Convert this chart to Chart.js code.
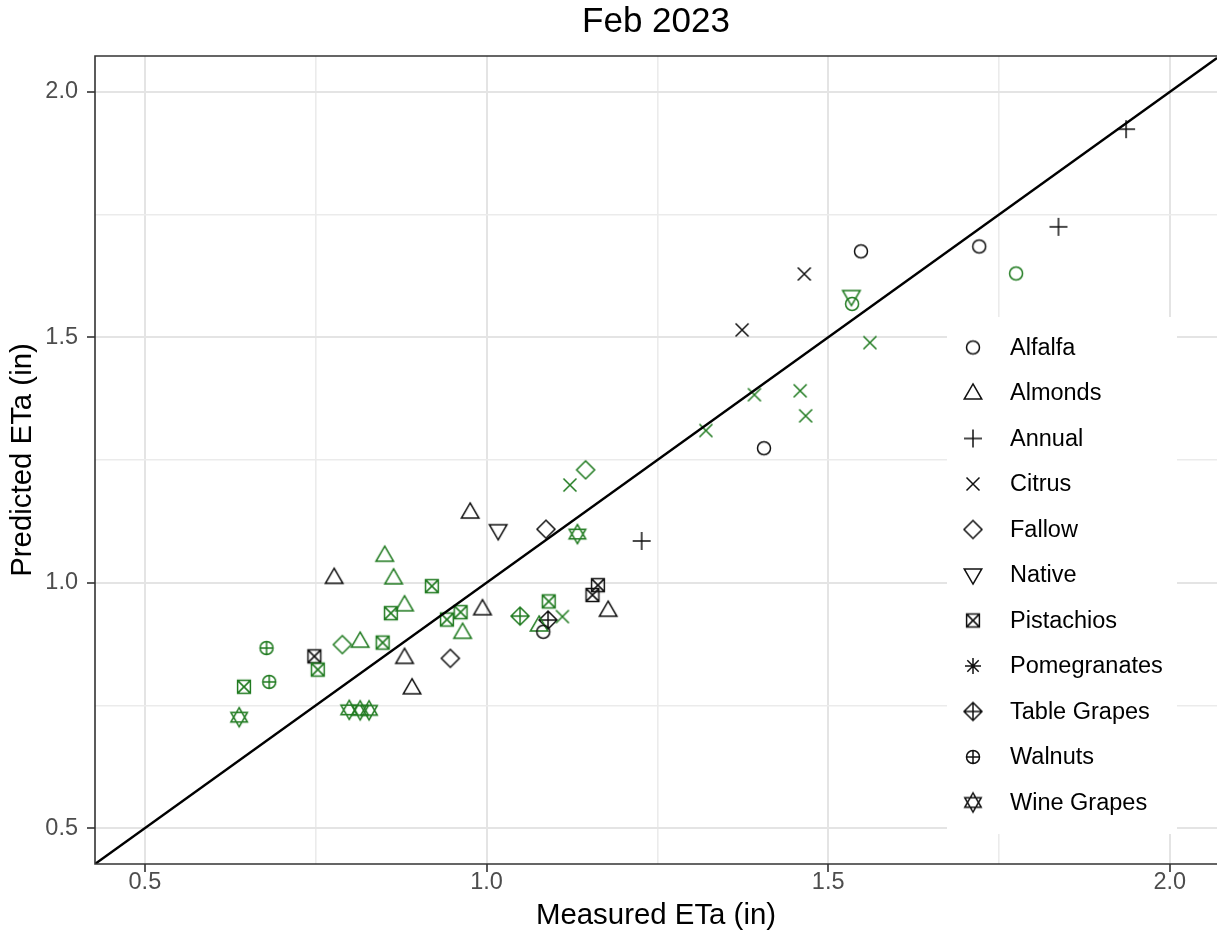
<!DOCTYPE html>
<html>
<head>
<meta charset="utf-8">
<script src="https://cdn.jsdelivr.net/npm/chart.js@4.4.0/dist/chart.umd.min.js"></script>
<style>
  html, body { margin: 0; padding: 0; background: #fff; overflow: hidden; }
  #chart { display: block; }
</style>
</head>
<body>
<canvas id="chart" width="1217" height="939"></canvas>
<script>
// data
const crops = ["Alfalfa", "Almonds", "Annual", "Citrus", "Fallow", "Native",
    "Pistachios", "Pomegranates", "Table Grapes", "Walnuts", "Wine Grapes"];

const blackCrop = ["Alfalfa", "Alfalfa", "Alfalfa", "Alfalfa",
    "Almonds", "Almonds", "Almonds", "Almonds", "Almonds", "Almonds",
    "Annual", "Annual", "Annual", "Citrus", "Citrus", "Fallow", "Fallow",
    "Native", "Pistachios", "Pistachios", "Pistachios", "Table Grapes"];
const blackMeasured = [1.548, 1.721, 1.406, 1.083,
    0.777, 0.976, 0.994, 1.178, 0.880, 0.891,
    1.936, 1.837, 1.227, 1.465, 1.374, 1.087, 0.947,
    1.017, 0.748, 1.163, 1.155, 1.090];
const blackPredicted = [1.675, 1.685, 1.274, 0.900,
    1.011, 1.144, 0.947, 0.944, 0.848, 0.786,
    1.924, 1.725, 1.085, 1.629, 1.515, 1.109, 0.846,
    1.106, 0.850, 0.995, 0.975, 0.924];

const greenCrop = ["Alfalfa", "Alfalfa",
    "Almonds", "Almonds", "Almonds", "Almonds", "Almonds", "Almonds",
    "Citrus", "Citrus", "Citrus", "Citrus", "Citrus", "Citrus", "Citrus",
    "Fallow", "Fallow", "Native",
    "Pistachios", "Pistachios", "Pistachios", "Pistachios",
    "Pistachios", "Pistachios", "Pistachios", "Pistachios",
    "Table Grapes", "Walnuts", "Walnuts",
    "Wine Grapes", "Wine Grapes", "Wine Grapes", "Wine Grapes", "Wine Grapes"];
const greenMeasured = [1.775, 1.535,
    0.851, 0.864, 0.880, 0.815, 0.965, 1.077,
    1.561, 1.392, 1.459, 1.467, 1.321, 1.122, 1.111,
    1.145, 0.789, 1.534,
    0.860, 0.753, 0.848, 0.645, 0.920, 1.091, 0.962, 0.942,
    1.049, 0.678, 0.682,
    0.638, 0.799, 0.815, 0.828, 1.133];
const greenPredicted = [1.630, 1.568,
    1.056, 1.010, 0.955, 0.881, 0.899, 0.914,
    1.489, 1.383, 1.391, 1.340, 1.310, 1.199, 0.931,
    1.230, 0.874, 1.583,
    0.938, 0.823, 0.878, 0.788, 0.993, 0.962, 0.940, 0.925,
    0.932, 0.867, 0.798,
    0.726, 0.741, 0.740, 0.740, 1.099];

const majorTicks = [0.5, 1.0, 1.5, 2.0];
const minorTicks = [0.75, 1.25, 1.75];
const axisMin = 0.427;
const xMax = 2.069;
const yMax = 2.073;
const chartTitle = "Feb 2023";

// look
const BLACK = "#111111";
const GREEN = "#1f7a1f";
const FONT = "'Liberation Sans', Arial, sans-serif";
const shapeOf = {
    "Alfalfa": "circle", "Almonds": "triangle", "Annual": "plus", "Citrus": "cross",
    "Fallow": "diamond", "Native": "triangleDown", "Pistachios": "squareCross",
    "Pomegranates": "asterisk", "Table Grapes": "diamondPlus",
    "Walnuts": "circlePlus", "Wine Grapes": "star"
};

function makeIcon(shape, color) {
    const c = document.createElement("canvas");
    c.width = 24; c.height = 24;
    const g = c.getContext("2d");
    g.strokeStyle = color;
    g.lineWidth = 1.5;
    g.lineJoin = "miter";
    g.translate(12, 12);
    const tri = (s, dir) => {
        const h = s * Math.sqrt(3) / 2;
        g.moveTo(0, -dir * h * 2 / 3);
        g.lineTo(s / 2, dir * h / 3);
        g.lineTo(-s / 2, dir * h / 3);
        g.closePath();
    };
    const line = (x1, y1, x2, y2) => { g.moveTo(x1, y1); g.lineTo(x2, y2); };
    g.beginPath();
    switch (shape) {
        case "circle": g.arc(0, 0, 6.5, 0, Math.PI * 2); break;
        case "triangle": g.translate(0, 1); tri(17.5, 1); break;
        case "triangleDown": g.translate(0, -1); tri(17.5, -1); break;
        case "plus": line(-9, 0, 9, 0); line(0, -9, 0, 9); break;
        case "cross": line(-6.5, -6.5, 6.5, 6.5); line(-6.5, 6.5, 6.5, -6.5); break;
        case "diamond":
            g.moveTo(0, -9); g.lineTo(9, 0); g.lineTo(0, 9); g.lineTo(-9, 0); g.closePath(); break;
        case "squareCross":
            g.rect(-6.4, -6.4, 12.8, 12.8);
            line(-6.4, -6.4, 6.4, 6.4); line(-6.4, 6.4, 6.4, -6.4); break;
        case "asterisk":
            line(-8, 0, 8, 0); line(0, -8, 0, 8);
            line(-5.7, -5.7, 5.7, 5.7); line(-5.7, 5.7, 5.7, -5.7); break;
        case "diamondPlus":
            g.moveTo(0, -9); g.lineTo(9, 0); g.lineTo(0, 9); g.lineTo(-9, 0); g.closePath();
            line(-9, 0, 9, 0); line(0, -9, 0, 9); break;
        case "circlePlus":
            g.arc(0, 0, 6.5, 0, Math.PI * 2);
            line(-6.5, 0, 6.5, 0); line(0, -6.5, 0, 6.5); break;
        case "star":
            tri(16.5, 1); tri(16.5, -1); break;
    }
    g.stroke();
    return c;
}

const icons = {};
crops.forEach(name => {
    icons[name] = { k: makeIcon(shapeOf[name], BLACK), g: makeIcon(shapeOf[name], GREEN) };
});

// one dataset per crop, points keep their colour group
const cropSets = crops.map(name => {
    const pts = [];
    blackCrop.forEach((c, i) => { if (c === name) pts.push({ x: blackMeasured[i], y: blackPredicted[i], g: "k" }); });
    greenCrop.forEach((c, i) => { if (c === name) pts.push({ x: greenMeasured[i], y: greenPredicted[i], g: "g" }); });
    return {
        type: "scatter",
        label: name,
        data: pts,
        pointRadius: 7,
        pointHoverRadius: 7,
        clip: false,
        pointStyle: ctx => (ctx.raw && ctx.raw.g === "g") ? icons[name].g : icons[name].k
    };
});

const oneToOne = {
    type: "line",
    label: "1:1",
    data: [{ x: axisMin, y: axisMin }, { x: xMax, y: xMax }],
    borderColor: "#000",
    borderWidth: 2.4,
    pointRadius: 0,
    fill: false
};

const allTicks = majorTicks.concat(minorTicks).sort((a, b) => a - b);
const isMajor = v => majorTicks.some(m => Math.abs(m - v) < 1e-6);

const gridOpts = {
    color: ctx => (ctx.tick && isMajor(ctx.tick.value)) ? "#e4e4e4" : "#ebebeb",
    lineWidth: ctx => (ctx.tick && isMajor(ctx.tick.value)) ? 2 : 1.6,
    tickColor: ctx => (ctx.tick && isMajor(ctx.tick.value)) ? "#333" : "rgba(0,0,0,0)",
    tickWidth: 1.6,
    tickLength: 8,
    drawTicks: true
};

// title, panel border and legend box inside the panel
const panelPlugin = {
    id: "panel",
    afterDatasetsDraw(chart) {
        const ctx = chart.ctx;
        const a = chart.chartArea;
        ctx.save();
        // title over the panel
        ctx.font = "35px " + FONT;
        ctx.fillStyle = "#000";
        ctx.textAlign = "center";
        ctx.textBaseline = "alphabetic";
        ctx.fillText(chartTitle, (a.left + a.right) / 2, 32);
        // legend
        const lx = 947, ly = 317, lw = 230, lh = 517;
        ctx.fillStyle = "#fff";
        ctx.fillRect(lx, ly, lw, lh);
        ctx.font = "23.5px " + FONT;
        ctx.fillStyle = "#000";
        ctx.textAlign = "left";
        ctx.textBaseline = "middle";
        crops.forEach((name, i) => {
            const cy = 347.5 + i * 45.5;
            const ic = icons[name].k;
            ctx.drawImage(ic, 973 - ic.width / 2, cy - ic.height / 2);
            ctx.fillText(name, 1010, cy + 1);
        });
        // border: panel runs off the right edge, so only three sides show
        ctx.strokeStyle = "#333";
        ctx.lineWidth = 1.6;
        ctx.beginPath();
        ctx.moveTo(chart.width + 2, a.top);
        ctx.lineTo(a.left, a.top);
        ctx.lineTo(a.left, a.bottom);
        ctx.lineTo(chart.width + 2, a.bottom);
        ctx.stroke();
        ctx.restore();
    }
};

new Chart(document.getElementById("chart"), {
    data: { datasets: [oneToOne].concat(cropSets) },
    options: {
        responsive: false,
        animation: false,
        events: [],
        layout: { autoPadding: false, padding: { left: 0, right: 0, top: 56, bottom: 0 } },
        plugins: {
            legend: { display: false },
            tooltip: { enabled: false },
            title: { display: false }
        },
        scales: {
            x: {
                type: "linear",
                min: axisMin,
                max: xMax,
                afterBuildTicks: s => { s.ticks = allTicks.map(v => ({ value: v })); },
                afterFit: s => { s.height = 75; },
                grid: gridOpts,
                border: { display: false },
                ticks: {
                    color: "#4d4d4d",
                    font: { size: 23.5, family: FONT },
                    padding: -4,
                    maxRotation: 0,
                    autoSkip: false,
                    callback: v => isMajor(v) ? v.toFixed(1) : ""
                },
                title: {
                    display: true,
                    text: "Measured ETa (in)",
                    color: "#000",
                    font: { size: 29.4, family: FONT },
                    padding: { top: 0, bottom: 5 }
                }
            },
            y: {
                type: "linear",
                min: axisMin,
                max: yMax,
                afterBuildTicks: s => { s.ticks = allTicks.map(v => ({ value: v })); },
                afterFit: s => { s.width = 95; },
                grid: gridOpts,
                border: { display: false },
                ticks: {
                    color: "#4d4d4d",
                    font: { size: 23.5, family: FONT },
                    padding: 9,
                    autoSkip: false,
                    callback: v => isMajor(v) ? v.toFixed(1) : ""
                },
                title: {
                    display: true,
                    text: "Predicted ETa (in)",
                    color: "#000",
                    font: { size: 29.4, family: FONT },
                    padding: { top: 5, bottom: 0 }
                }
            }
        }
    },
    plugins: [panelPlugin]
});
</script>
</body>
</html>
